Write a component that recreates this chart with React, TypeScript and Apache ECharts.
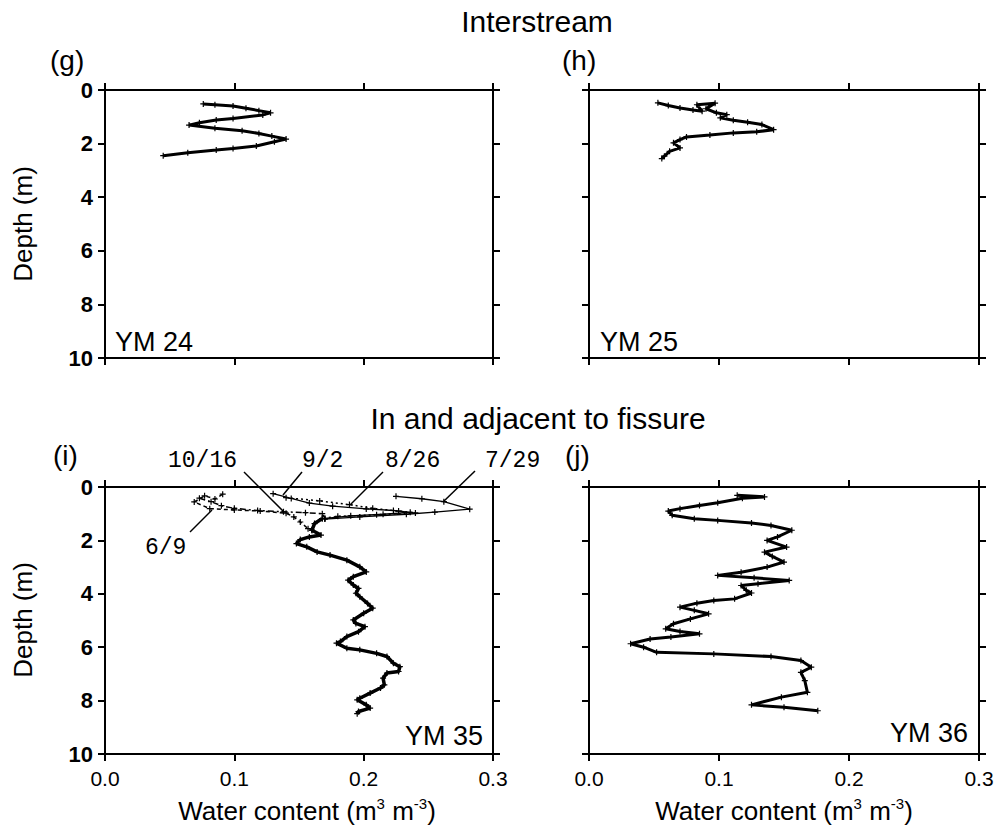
import React, { useEffect, useRef } from "react";
import * as echarts from "echarts";

const FONT = '"Liberation Sans", Arial, Helvetica, sans-serif';
const MONO = '"Liberation Mono", "Courier New", monospace';

// Axis ticks
const thetaMin = 0;
const thetaMax = 0.3;
const thetaStep = 0.1;
const depthMin = 0;
const depthMax = 10;
const depthStep = 2;

// (g) YM 24 – Interstream
const ym24Theta = [0.076, 0.085, 0.099, 0.109, 0.119, 0.128, 0.122, 0.099, 0.086, 0.073, 0.065, 0.085, 0.106, 0.119, 0.129, 0.140, 0.131, 0.117, 0.099, 0.086, 0.064, 0.045];
const ym24Depth = [0.52, 0.55, 0.60, 0.68, 0.77, 0.85, 0.93, 1.06, 1.12, 1.22, 1.31, 1.43, 1.52, 1.62, 1.72, 1.83, 1.93, 2.09, 2.18, 2.24, 2.34, 2.45];

// (h) YM 25 – Interstream
const ym25Theta = [0.053, 0.061, 0.070, 0.080, 0.087, 0.083, 0.097, 0.090, 0.098, 0.106, 0.101, 0.111, 0.122, 0.133, 0.142, 0.129, 0.111, 0.093, 0.075, 0.070, 0.065, 0.070, 0.062, 0.058, 0.056];
const ym25Depth = [0.48, 0.58, 0.67, 0.75, 0.79, 0.55, 0.49, 0.70, 0.85, 0.92, 1.04, 1.13, 1.20, 1.29, 1.48, 1.56, 1.60, 1.68, 1.75, 1.85, 1.97, 2.16, 2.29, 2.47, 2.56];

// (i) YM 35 – dated profiles (upper part)
const d69Theta = [0.091, 0.085, 0.077, 0.069, 0.081, 0.100, 0.120, 0.140, 0.146, 0.151, 0.157, 0.160];
const d69Depth = [0.27, 0.45, 0.33, 0.56, 0.81, 0.86, 0.90, 0.98, 1.12, 1.31, 1.56, 1.62];
const d729Theta = [0.225, 0.245, 0.262, 0.282, 0.255, 0.233, 0.197, 0.170];
const d729Depth = [0.35, 0.44, 0.55, 0.83, 0.94, 1.02, 1.12, 1.20];
const d826Theta = [0.140, 0.166, 0.189, 0.207, 0.227, 0.240, 0.210, 0.180, 0.168];
const d826Depth = [0.40, 0.52, 0.66, 0.80, 0.90, 0.97, 1.04, 1.10, 1.18];
const d92Theta = [0.130, 0.144, 0.158, 0.176, 0.202, 0.223, 0.236, 0.215, 0.190, 0.170];
const d92Depth = [0.25, 0.43, 0.60, 0.72, 0.82, 0.88, 0.95, 1.02, 1.08, 1.18];
const d1016Theta = [0.073, 0.082, 0.090, 0.100, 0.118, 0.138, 0.155, 0.168, 0.170];
const d1016Depth = [0.42, 0.55, 0.70, 0.80, 0.88, 0.93, 0.96, 1.00, 1.18];

// (i) YM 35 – profile below ~1.2 m (all dates overlap)
const ym35DeepTheta = [0.168, 0.162, 0.160, 0.167, 0.158, 0.151, 0.148, 0.156, 0.164, 0.174, 0.187, 0.197, 0.202, 0.192, 0.188, 0.192, 0.196, 0.194, 0.197, 0.203, 0.207, 0.200, 0.192, 0.194, 0.201, 0.196, 0.187, 0.182, 0.179, 0.187, 0.197, 0.210, 0.218, 0.223, 0.228, 0.227, 0.218, 0.215, 0.216, 0.213, 0.205, 0.197, 0.195, 0.202, 0.205, 0.196, 0.195];
const ym35DeepDepth = [1.18, 1.37, 1.62, 1.80, 1.87, 1.97, 2.12, 2.24, 2.43, 2.55, 2.74, 2.99, 3.18, 3.36, 3.49, 3.67, 3.80, 3.98, 4.11, 4.36, 4.54, 4.73, 4.98, 5.11, 5.23, 5.42, 5.60, 5.79, 5.85, 6.04, 6.10, 6.23, 6.35, 6.60, 6.73, 6.91, 6.97, 7.16, 7.41, 7.53, 7.72, 7.91, 7.97, 8.16, 8.28, 8.41, 8.49];

// (j) YM 36
const ym36Theta = [0.114, 0.135, 0.118, 0.099, 0.085, 0.070, 0.061, 0.064, 0.081, 0.099, 0.125, 0.140, 0.156, 0.145, 0.137, 0.152, 0.135, 0.141, 0.150, 0.137, 0.117, 0.099, 0.127, 0.154, 0.130, 0.117, 0.121, 0.125, 0.112, 0.096, 0.083, 0.070, 0.081, 0.092, 0.078, 0.065, 0.059, 0.070, 0.085, 0.063, 0.047, 0.032, 0.042, 0.052, 0.096, 0.140, 0.163, 0.171, 0.163, 0.166, 0.168, 0.148, 0.125, 0.150, 0.176];
const ym36Depth = [0.31, 0.37, 0.42, 0.59, 0.69, 0.81, 0.90, 1.06, 1.19, 1.25, 1.35, 1.44, 1.62, 1.87, 2.00, 2.25, 2.44, 2.60, 2.81, 3.00, 3.19, 3.31, 3.40, 3.50, 3.62, 3.69, 3.87, 3.97, 4.19, 4.25, 4.35, 4.50, 4.62, 4.75, 4.94, 5.12, 5.31, 5.41, 5.50, 5.62, 5.69, 5.87, 6.00, 6.19, 6.25, 6.35, 6.50, 6.75, 6.94, 7.25, 7.69, 7.87, 8.16, 8.25, 8.38];

const pairs = (t: number[], d: number[]) => t.map((v, i) => [v, d[i]]);

const PLUS = "path://M4,0h2v4h4v2h-4v4h-2v-4h-4v-2h4z";

const panels = [
  { left: 105, top: 90, width: 388, height: 268, yLabels: true, xLabels: false },
  { left: 589, top: 90, width: 390, height: 268, yLabels: false, xLabels: false },
  { left: 105, top: 487, width: 388, height: 267, yLabels: true, xLabels: true },
  { left: 589, top: 487, width: 390, height: 267, yLabels: false, xLabels: true },
];

export default function App() {
  const ref = useRef<HTMLDivElement>(null);
  useEffect(() => {
    document.body.style.margin = "0";
    if (!ref.current) return;
    const chart = echarts.init(ref.current, null, { renderer: "svg" });

    const axisLine = { show: true, onZero: false, lineStyle: { color: "#000", width: 2 } };
    const axisTick = { show: true, length: 7, lineStyle: { color: "#000", width: 2 } };

    const grid: any[] = [];
    const xAxis: any[] = [];
    const yAxis: any[] = [];
    panels.forEach((p, k) => {
      grid.push({ left: p.left, top: p.top, width: p.width, height: p.height });
      ["bottom", "top"].forEach((pos) => {
        xAxis.push({
          gridIndex: k, type: "value", position: pos, min: thetaMin, max: thetaMax, interval: thetaStep,
          axisLine, axisTick, splitLine: { show: false },
          axisLabel: {
            show: pos === "bottom" && p.xLabels, margin: 14, color: "#000", fontSize: 21, fontFamily: FONT,
            formatter: (v: number) => v.toFixed(1),
          },
        });
      });
      ["left", "right"].forEach((pos) => {
        yAxis.push({
          gridIndex: k, type: "value", position: pos, min: depthMin, max: depthMax, interval: depthStep, inverse: true,
          axisLine, axisTick, splitLine: { show: false },
          axisLabel: {
            show: pos === "left" && p.yLabels, margin: 12, color: "#000", fontSize: 22, fontWeight: "bold", fontFamily: FONT,
          },
        });
      });
    });

    const mk = (name: string, k: number, data: number[][], width: number, type: any = "solid", size = 6) => ({
      name, type: "line", xAxisIndex: 2 * k, yAxisIndex: 2 * k, data,
      symbol: PLUS, symbolSize: size, showSymbol: true,
      itemStyle: { color: "#000" },
      lineStyle: { color: "#000", width, type },
      z: 3,
    });

    const series = [
      mk("YM 24", 0, pairs(ym24Theta, ym24Depth), 3),
      mk("YM 25", 1, pairs(ym25Theta, ym25Depth), 3),
      mk("6/9", 2, pairs(d69Theta, d69Depth), 1.5, [4, 3]),
      mk("7/29", 2, pairs(d729Theta, d729Depth), 1.3),
      mk("8/26", 2, pairs(d826Theta, d826Depth), 1.5, [2, 3]),
      mk("9/2", 2, pairs(d92Theta, d92Depth), 1.3),
      mk("10/16", 2, pairs(d1016Theta, d1016Depth), 1.5, [6, 3, 2, 3]),
      mk("YM 35 deep", 2, pairs(ym35DeepTheta, ym35DeepDepth), 3.5),
      mk("YM 36", 3, pairs(ym36Theta, ym36Depth), 3),
    ];

    const txt = (text: string, x: number, y: number, fontSize: number, align = "left", extra: any = {}) => ({
      type: "text", x, y, ...extra,
      style: { text, fontSize, fontFamily: FONT, fill: "#000", align, verticalAlign: "middle" },
    });
    const mono = (text: string, x: number, y: number) => ({
      type: "text", x, y,
      style: { text, fontSize: 23, fontFamily: MONO, fill: "#000", align: "left", verticalAlign: "middle" },
    });
    const lead = (x1: number, y1: number, x2: number, y2: number) => ({
      type: "line", shape: { x1, y1, x2, y2 }, style: { stroke: "#000", lineWidth: 1.5 },
    });
    const waterName = (x: number, y: number) => ({
      type: "text", x, y,
      style: {
        text: "{a|Water content (m}{s|3}{a| m}{s|-3}{a|)}",
        align: "center", verticalAlign: "middle", fill: "#000",
        rich: {
          a: { fontSize: 26, fontFamily: FONT, lineHeight: 30, fill: "#000" },
          s: { fontSize: 15, fontFamily: FONT, lineHeight: 30, verticalAlign: "top", fill: "#000" },
        },
      },
    });

    const graphic = [
      txt("Interstream", 537, 21, 30, "center"),
      txt("In and adjacent to fissure", 538, 418, 30, "center"),
      txt("(g)", 50, 60, 28),
      txt("(h)", 562, 60, 28),
      txt("(i)", 53, 455, 28),
      txt("(j)", 565, 455, 28),
      txt("YM 24", 115, 342, 27),
      txt("YM 25", 600, 342, 27),
      txt("YM 35", 483, 736, 27, "right"),
      txt("YM 36", 968, 733, 27, "right"),
      txt("Depth (m)", 23, 224, 26, "center", { rotation: Math.PI / 2 }),
      txt("Depth (m)", 23, 620, 26, "center", { rotation: Math.PI / 2 }),
      waterName(307, 811),
      waterName(784, 811),
      mono("10/16", 168, 461),
      mono("9/2", 302, 461),
      mono("8/26", 385, 461),
      mono("7/29", 485, 461),
      mono("6/9", 145, 548),
      lead(244, 472, 284, 512),
      lead(302, 472, 283, 495),
      lead(383, 472, 350, 505),
      lead(475, 471, 443, 502),
      lead(212, 510, 190, 532),
    ];

    chart.setOption({
      animation: false,
      backgroundColor: "#fff",
      grid, xAxis, yAxis, series, graphic,
    });
    return () => chart.dispose();
  }, []);
  return <div ref={ref} style={{ width: 1003, height: 831, background: "#fff" }} />;
}
